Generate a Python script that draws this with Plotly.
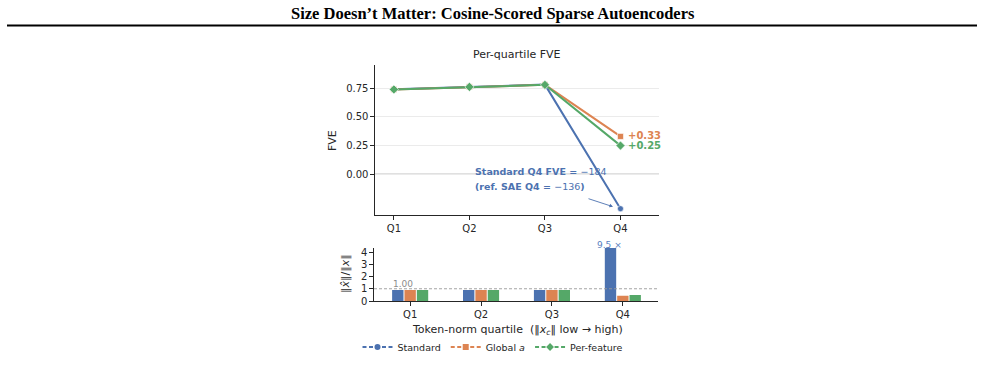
import plotly.graph_objects as go

W, H = 985, 378

# ---------------- data ----------------
quartiles = ["Q1", "Q2", "Q3", "Q4"]
series_names = ["Standard", "Global <i>a</i>", "Per-feature"]
colors = ["#4C72B0", "#DD8452", "#55A868"]
symbols = ["circle", "square", "diamond"]

# Per-quartile FVE (Standard Q4 shown off-scale at bottom; true value -184)
fve_standard = [0.742, 0.765, 0.782, -0.30]
fve_global = [0.740, 0.762, 0.780, 0.33]
fve_perfeature = [0.740, 0.762, 0.780, 0.25]
fve_series = [fve_standard, fve_global, fve_perfeature]

std_q4_fve_true = "−184"
ref_sae_q4_fve = "−136"
q4_gain_labels = ["+0.33", "+0.25"]

# Norm ratio ||x_hat|| / ||x|| per quartile
ratio_standard = [0.90, 0.90, 0.90, 9.5]
ratio_global = [0.90, 0.90, 0.90, 0.42]
ratio_perfeature = [0.90, 0.90, 0.90, 0.50]
ratio_series = [ratio_standard, ratio_global, ratio_perfeature]
ratio_ref = 1.0


# ---------------- helpers ----------------
def px(x):
    return x / W


def py(y):
    return 1 - y / H


spine = "#262626"
fig = go.Figure()

# top panel lines
for name, vals, c, s in zip(series_names, fve_series, colors, symbols):
    fig.add_trace(go.Scatter(
        x=quartiles, y=vals, mode="lines+markers", name=name,
        line=dict(color=c, width=2),
        marker=dict(symbol=s, color=c, size=7 if s == "diamond" else 6,
                    line=dict(color="white", width=0.6)),
        showlegend=False, xaxis="x", yaxis="y", cliponaxis=False))

# bottom panel bars
for name, vals, c in zip(series_names, ratio_series, colors):
    fig.add_trace(go.Bar(
        x=quartiles, y=vals, name=name, marker=dict(color=c, line=dict(width=0)),
        showlegend=False, xaxis="x2", yaxis="y2"))

# legend-only entries (dashed with markers)
for name, c, s in zip(series_names, colors, symbols):
    fig.add_trace(go.Scatter(
        x=[None], y=[None], mode="lines+markers", name=name,
        line=dict(color=c, width=1.8, dash="4px,2.5px"),
        marker=dict(symbol=s, color=c, size=6),
        xaxis="x", yaxis="y", showlegend=True))

axis_common = dict(showline=True, linecolor=spine, linewidth=1.1, ticks="outside",
                   ticklen=3.5, tickcolor=spine, tickwidth=1,
                   tickfont=dict(family="DejaVu Sans", size=10, color="#262626"),
                   zeroline=False, automargin=False)

fig.update_layout(
    width=W, height=H, margin=dict(l=0, r=0, t=0, b=0, autoexpand=False),
    paper_bgcolor="white", plot_bgcolor="white",
    barmode="group", bargap=0.477, bargroupgap=0.08,
    xaxis=dict(domain=[px(375), px(659)], anchor="y", type="category", range=[-0.25, 3.51],
               showgrid=False, **axis_common),
    yaxis=dict(domain=[py(215), py(65)], anchor="x", range=[-0.355, 0.953],
               tickvals=[0, 0.25, 0.5, 0.75], tickformat=".2f",
               showgrid=True, gridcolor="#ebebeb", gridwidth=1, **axis_common),
    xaxis2=dict(domain=[px(374), px(658.3)], anchor="y2", type="category",
                range=[-0.51, 3.5], showgrid=False, **axis_common),
    yaxis2=dict(domain=[py(301), py(248)], anchor="x2", range=[0, 4.33],
                tickvals=[0, 1, 2, 3, 4], showgrid=False, **axis_common),
    legend=dict(orientation="h", x=0.5, xanchor="center", y=py(347), yanchor="middle",
                font=dict(family="DejaVu Sans", size=9.5, color="#262626"),
                itemwidth=30, tracegroupgap=0, bgcolor="rgba(0,0,0,0)"),
    font=dict(family="DejaVu Sans", color="#262626"),
)

shapes = [
    # header rule
    dict(type="line", xref="paper", yref="paper", x0=px(7), x1=px(977), y0=py(25.5), y1=py(25.5),
         line=dict(color="black", width=2)),
    # zero line on top panel
    dict(type="line", xref="x domain", yref="y", x0=0, x1=1, y0=0, y1=0,
         line=dict(color="#6e6e6e", width=1), layer="below"),
    # reference line on bottom panel
    dict(type="line", xref="x2 domain", yref="y2", x0=0, x1=1, y0=ratio_ref, y1=ratio_ref,
         line=dict(color="#9a9a9a", width=0.9, dash="3px,2px"), layer="above"),
]
fig.update_layout(shapes=shapes)

blue = colors[0]


def note(text, x, y, size, color, xanchor="center", angle=0, fam="DejaVu Sans"):
    return dict(text=text, xref="paper", yref="paper", x=px(x), y=py(y),
                xanchor=xanchor, yanchor="middle", textangle=angle, showarrow=False,
                font=dict(family=fam, size=size, color=color))


ann = [
    note("<b>Size Doesn’t Matter: Cosine-Scored Sparse Autoencoders</b>", 493, 13, 16.5, "black",
         fam="Liberation Serif"),
    note("Per-quartile FVE", 517, 55, 11, "#262626"),
    note("FVE", 332, 141, 11, "#262626", angle=-90),
    note("‖<i>x̂</i>‖/‖<i>x</i>‖", 345, 274, 11, "#262626", angle=-90),
    note("Token-norm quartile\u00a0\u00a0(‖<i>x</i><sub><i>c</i></sub>‖ low → high)", 517, 329.5, 11, "#262626"),
    note("<b>" + q4_gain_labels[0] + "</b>", 626, 135.7, 10, colors[1], xanchor="left"),
    note("<b>" + q4_gain_labels[1] + "</b>", 626, 145.3, 10, colors[2], xanchor="left"),
    note("<b>Standard Q4 FVE = </b>" + std_q4_fve_true, 473, 171.7, 9.5, blue, xanchor="left"),
    note("<b>(ref. SAE Q4 = </b>" + ref_sae_q4_fve + "<b>)</b>", 473, 186.7, 9.5, blue, xanchor="left"),
    dict(text="", xref="paper", yref="paper", x=px(613), y=py(206.7), ax=-26, ay=-8.5, axref="pixel",
         ayref="pixel", showarrow=True, arrowhead=2, arrowsize=0.8, arrowwidth=0.9, arrowcolor=blue),
    note("1.00", 403, 283.5, 9, "#8c8c8c"),
    note("9.5 ×", 609, 245, 9, "#5a7fc0"),
]
fig.update_layout(annotations=ann)

fig.write_html("out.html")
